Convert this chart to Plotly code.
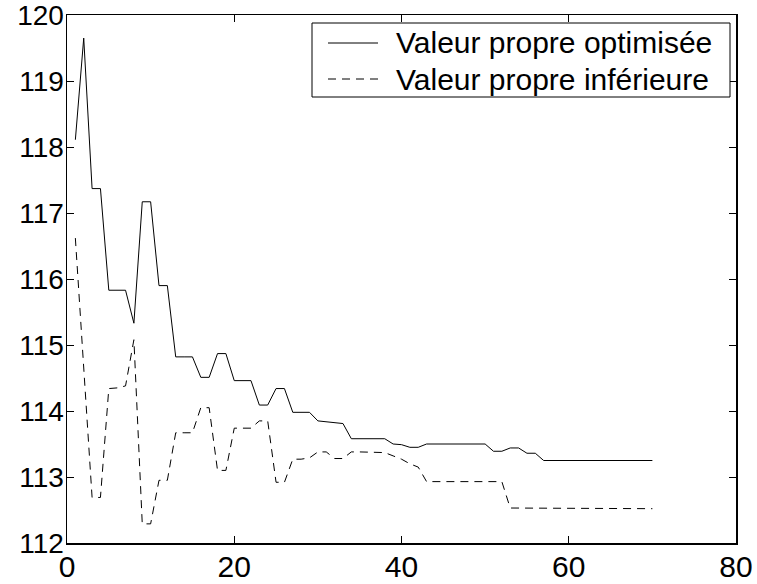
import plotly.graph_objects as go

iterations = list(range(1, 71))

valeur_optimisee = [
    118.11, 119.65, 117.37, 117.37, 115.83, 115.83, 115.83, 115.33, 117.17, 117.17,
    115.90, 115.90, 114.82, 114.82, 114.82, 114.51, 114.51, 114.87, 114.87, 114.46,
    114.46, 114.46, 114.09, 114.09, 114.34, 114.34, 113.98, 113.98, 113.98, 113.85,
    113.84, 113.82, 113.81, 113.58, 113.58, 113.58, 113.58, 113.58, 113.50, 113.49,
    113.45, 113.45, 113.50, 113.50, 113.50, 113.50, 113.50, 113.50, 113.50, 113.50,
    113.39, 113.39, 113.44, 113.44, 113.36, 113.36, 113.25, 113.25, 113.25, 113.25,
    113.25, 113.25, 113.25, 113.25, 113.25, 113.25, 113.25, 113.25, 113.25, 113.25,
]

valeur_inferieure = [
    116.62, 114.65, 112.69, 112.69, 114.34, 114.35, 114.38, 115.08, 112.29, 112.29,
    112.95, 112.95, 113.67, 113.67, 113.67, 114.05, 114.05, 113.10, 113.10, 113.74,
    113.74, 113.74, 113.85, 113.85, 112.92, 112.92, 113.27, 113.27, 113.29, 113.38,
    113.38, 113.28, 113.28, 113.38, 113.38, 113.38, 113.38, 113.37, 113.32, 113.27,
    113.20, 113.15, 112.93, 112.93, 112.93, 112.93, 112.93, 112.93, 112.93, 112.93,
    112.93, 112.93, 112.53, 112.53, 112.53, 112.53, 112.53, 112.52, 112.52, 112.52,
    112.52, 112.52, 112.52, 112.52, 112.52, 112.52, 112.52, 112.52, 112.52, 112.52,
]

series_names = ["Valeur propre optimisée", "Valeur propre inférieure"]
x_ticks = [0, 20, 40, 60, 80]
y_ticks = [112, 113, 114, 115, 116, 117, 118, 119, 120]

FONT = "Liberation Sans, Arial, Helvetica, sans-serif"
W, H = 757, 584
ML, MR, MT, MB = 67, 21, 15, 41
PW, PH = W - ML - MR, H - MT - MB

DASH = "8px,6px"
styles = [dict(color="black", width=1), dict(color="black", width=1, dash=DASH)]


def px_x(p):
    return (p - ML) / PW


def px_y(p):
    return 1 - (p - MT) / PH


fig = go.Figure()
for name, ys, st in zip(series_names, [valeur_optimisee, valeur_inferieure], styles):
    fig.add_trace(go.Scatter(x=iterations, y=ys, mode="lines", name=name,
                             line=st, showlegend=False, hoverinfo="skip"))

axis_common = dict(
    showline=True, linecolor="black", linewidth=1.5, mirror="ticks",
    ticks="inside", ticklen=7, tickwidth=1, tickcolor="black",
    showgrid=False, zeroline=False, automargin=False, ticklabeloverflow="allow",
)

# Legend box drawn manually (matches the MATLAB-style legend)
shapes = [dict(type="rect", xref="paper", yref="paper",
               x0=px_x(312), x1=px_x(730), y0=px_y(97), y1=px_y(23),
               line=dict(color="black", width=1), fillcolor="white", layer="above")]
annotations = []
row_y = [43, 79]
for name, st, ry in zip(series_names, styles, row_y):
    shapes.append(dict(type="line", xref="paper", yref="paper",
                       x0=px_x(328), x1=px_x(378), y0=px_y(ry), y1=px_y(ry),
                       line=st, layer="above"))
    annotations.append(dict(text=name, xref="paper", yref="paper",
                            x=px_x(394), y=px_y(ry), xanchor="left", yanchor="middle",
                            showarrow=False, font=dict(size=30, family=FONT, color="black")))

fig.update_layout(
    width=W, height=H,
    margin=dict(l=ML, r=MR, t=MT, b=MB),
    paper_bgcolor="white", plot_bgcolor="white",
    font=dict(family=FONT, color="black"),
    xaxis=dict(range=[0, 80], tickvals=x_ticks, tickfont=dict(size=30, family=FONT),
               ticklabelstandoff=-4, **axis_common),
    yaxis=dict(range=[112, 120], tickvals=y_ticks, tickfont=dict(size=28, family=FONT),
               ticklabelstandoff=-4, **axis_common),
    shapes=shapes,
    annotations=annotations,
    showlegend=False,
    hovermode=False,
)

fig.write_html(
    "out.html",
    config={"displayModeBar": False, "staticPlot": True},
    post_script="document.body.style.margin='0';document.body.style.overflow='hidden';",
)
